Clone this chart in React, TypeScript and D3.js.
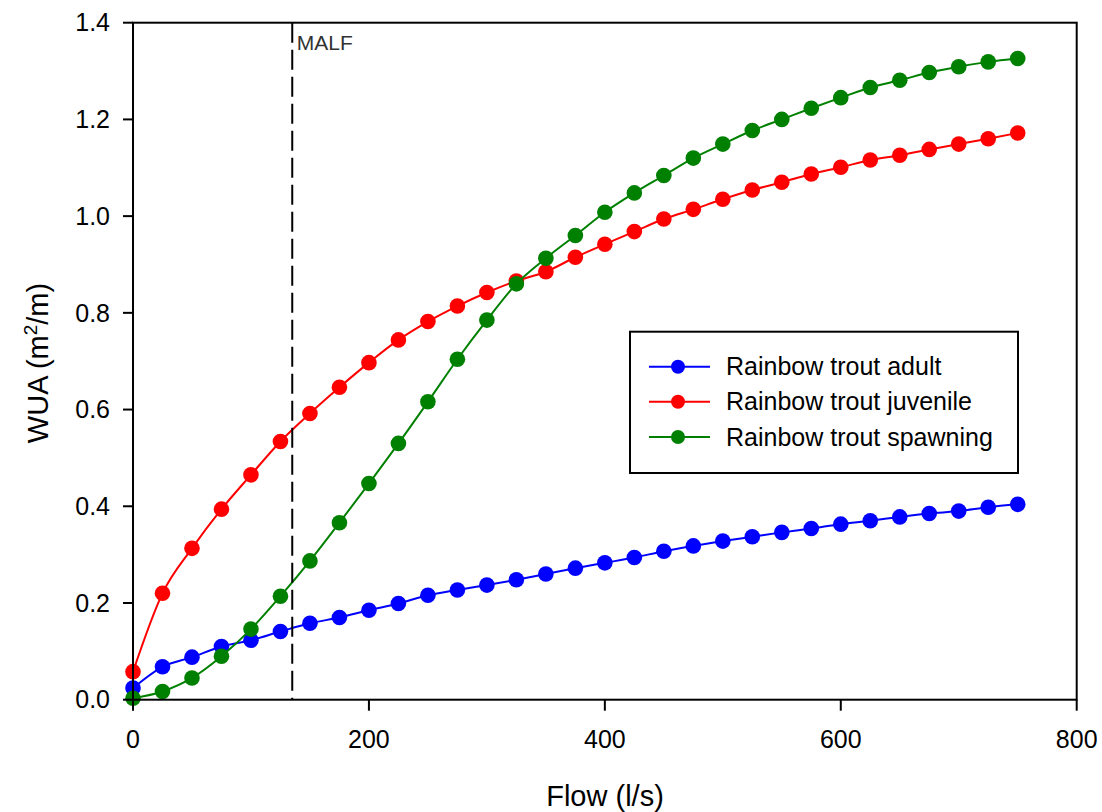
import React from "react";
import * as d3 from "d3";

const flows = [0, 25, 50, 75, 100, 125, 150, 175, 200, 225, 250, 275, 300, 325, 350, 375, 400, 425, 450, 475, 500, 525, 550, 575, 600, 625, 650, 675, 700, 725, 750];

const adult = [0.024, 0.068, 0.088, 0.110, 0.123, 0.141, 0.158, 0.170, 0.185, 0.199, 0.216, 0.227, 0.237, 0.248, 0.260, 0.272, 0.283, 0.294, 0.307, 0.318, 0.328, 0.337, 0.346, 0.354, 0.363, 0.370, 0.378, 0.385, 0.390, 0.398, 0.404];

const juvenile = [0.058, 0.220, 0.313, 0.394, 0.465, 0.534, 0.592, 0.646, 0.697, 0.744, 0.782, 0.814, 0.842, 0.866, 0.885, 0.915, 0.942, 0.968, 0.994, 1.014, 1.035, 1.054, 1.070, 1.087, 1.101, 1.116, 1.126, 1.138, 1.149, 1.160, 1.172];

const spawning = [0.003, 0.017, 0.045, 0.090, 0.146, 0.214, 0.287, 0.366, 0.447, 0.530, 0.616, 0.704, 0.785, 0.860, 0.913, 0.960, 1.008, 1.048, 1.084, 1.120, 1.149, 1.177, 1.200, 1.223, 1.245, 1.266, 1.281, 1.297, 1.309, 1.319, 1.326];

const seriesNames = ["Rainbow trout adult", "Rainbow trout juvenile", "Rainbow trout spawning"];
const seriesColors = ["#0000ff", "#ff0000", "#008000"];
const seriesValues = [adult, juvenile, spawning];

const xTicks = [0, 200, 400, 600, 800];
const yTicks = [0, 0.2, 0.4, 0.6, 0.8, 1.0, 1.2, 1.4];
const malf = 135;

const FONT = "'Liberation Sans', Arial, Helvetica, sans-serif";

export default function App() {
  const W = 1102, H = 812;
  const x = d3.scaleLinear().domain([0, 800]).range([133, 1076.7]);
  const y = d3.scaleLinear().domain([0, 1.4]).range([699.7, 22.7]);
  const [x0, x1] = x.range();
  const [y0, y1] = y.range();

  const line = d3.line<number>()
    .x((_, i) => x(flows[i]))
    .y((d) => y(d))
    .curve(d3.curveMonotoneX);

  const legendX = 630, legendY = 331.7, legendW = 388, legendH = 141.3;
  const rowYs = [366.7, 401.7, 437];

  return (
    <svg width={W} height={H} style={{ position: "absolute", left: 0, top: 0, background: "#fff" }} fontFamily={FONT}>
      <rect x={0} y={0} width={W} height={H} fill="#fff" />

      {/* series */}
      {seriesValues.map((vals, si) => (
        <g key={si}>
          <path d={line(vals) || ""} fill="none" stroke={seriesColors[si]} strokeWidth={2} />
          {vals.map((v, i) => (
            <circle key={i} cx={x(flows[i])} cy={y(v)} r={7.8} fill={seriesColors[si]} />
          ))}
        </g>
      ))}

      {/* MALF line */}
      <line x1={x(malf)} x2={x(malf)} y1={y1} y2={y0} stroke="#000" strokeWidth={2} strokeDasharray="20,7" />
      <text x={x(malf) + 4.5} y={50} fontSize={21} fill="#333">MALF</text>

      {/* frame */}
      <rect x={x0} y={y1} width={x1 - x0} height={y0 - y1} fill="none" stroke="#000" strokeWidth={2} />

      {/* y axis ticks */}
      {yTicks.map((t) => (
        <g key={t}>
          <line x1={x0 - 10} x2={x0} y1={y(t)} y2={y(t)} stroke="#000" strokeWidth={2} />
          <text x={110} y={y(t)} dy="0.35em" textAnchor="end" fontSize={25} fill="#000">{t.toFixed(1)}</text>
        </g>
      ))}

      {/* x axis ticks */}
      {xTicks.map((t) => (
        <g key={t}>
          <line x1={x(t)} x2={x(t)} y1={y0} y2={y0 + 11} stroke="#000" strokeWidth={2} />
          <text x={x(t)} y={748} textAnchor="middle" fontSize={25} fill="#000">{t}</text>
        </g>
      ))}

      {/* axis titles */}
      <text x={605} y={806} textAnchor="middle" fontSize={29} fill="#000">Flow (l/s)</text>
      <text transform={`translate(48, 363) rotate(-90)`} textAnchor="middle" fontSize={29} fill="#000">
        WUA (m<tspan fontSize={19} dy={-11}>2</tspan><tspan dy={11}>/m)</tspan>
      </text>

      {/* legend */}
      <rect x={legendX} y={legendY} width={legendW} height={legendH} fill="#fff" stroke="#000" strokeWidth={2} />
      {seriesNames.map((name, i) => (
        <g key={name}>
          <line x1={649} x2={710} y1={rowYs[i]} y2={rowYs[i]} stroke={seriesColors[i]} strokeWidth={2} />
          <circle cx={678} cy={rowYs[i]} r={7} fill={seriesColors[i]} />
          <text x={726} y={rowYs[i]} dy="0.35em" fontSize={25} fill="#000">{name}</text>
        </g>
      ))}
    </svg>
  );
}
